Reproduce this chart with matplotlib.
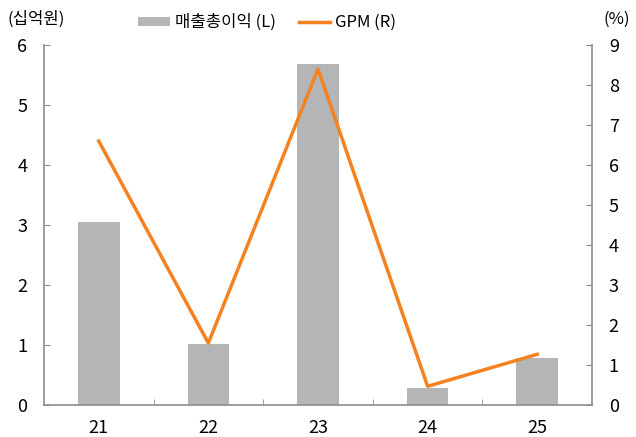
import numpy as np
import matplotlib
matplotlib.use("Agg")
import matplotlib.pyplot as plt

plt.rcParams['font.family'] = ['Noto Sans CJK KR', 'DejaVu Sans']

years = ["21", "22", "23", "24", "25"]
gross_profit = [3.05, 1.02, 5.68, 0.28, 0.78]   # 십억원
gpm = [6.6, 1.55, 8.4, 0.47, 1.27]              # %

bar_color = "#b4b5b7"
line_color = "#f58220"
spine_color = "#8c8c8c"

fig = plt.figure(figsize=(6.36, 4.37), dpi=100)
ax = fig.add_axes([0.069, 0.073, 0.862, 0.824])
ax2 = ax.twinx()

x = np.arange(len(years))
ax.bar(x, gross_profit, width=0.38, color=bar_color, label="매출총이익 (L)", zorder=2)
ax2.plot(x, gpm, color=line_color, lw=2.5, label="GPM (R)", zorder=3)

ax.set_xlim(-0.5, len(years) - 0.5)
ax.set_ylim(0, 6)
ax2.set_ylim(0, 9)
ax.set_yticks(range(0, 7))
ax2.set_yticks(range(0, 10))
ax.set_xticks(x)
ax.set_xticklabels(years)
ax.set_xticks(np.arange(0.5, len(years) - 0.5), minor=True)

for a in (ax, ax2):
    a.spines['top'].set_visible(False)
    for s in ('left', 'right', 'bottom'):
        a.spines[s].set_color(spine_color)
        a.spines[s].set_linewidth(1.2)
ax.spines['right'].set_visible(False)
ax2.spines['left'].set_visible(False)
ax2.spines['bottom'].set_visible(False)

ax.tick_params(axis='y', direction='in', length=4, color=spine_color, labelsize=13, pad=12)
ax2.tick_params(axis='y', direction='in', length=4, color=spine_color, labelsize=13, pad=12)
ax.tick_params(axis='x', which='major', length=0, labelsize=13, pad=10)
ax.tick_params(axis='x', which='minor', direction='in', length=4, color=spine_color)

fig.text(0.012, 0.955, "(십억원)", fontsize=12, ha='left', va='center')
fig.text(0.99, 0.955, "(%)", fontsize=12, ha='right', va='center')

h1, l1 = ax.get_legend_handles_labels()
h2, l2 = ax2.get_legend_handles_labels()
fig.legend(h1 + h2, l1 + l2, loc='center', bbox_to_anchor=(0.42, 0.948), ncol=2,
           frameon=False, fontsize=12, handlelength=1.9, handletextpad=0.3,
           columnspacing=1.4, handleheight=0.4)

fig.savefig("out.png", dpi=100)
